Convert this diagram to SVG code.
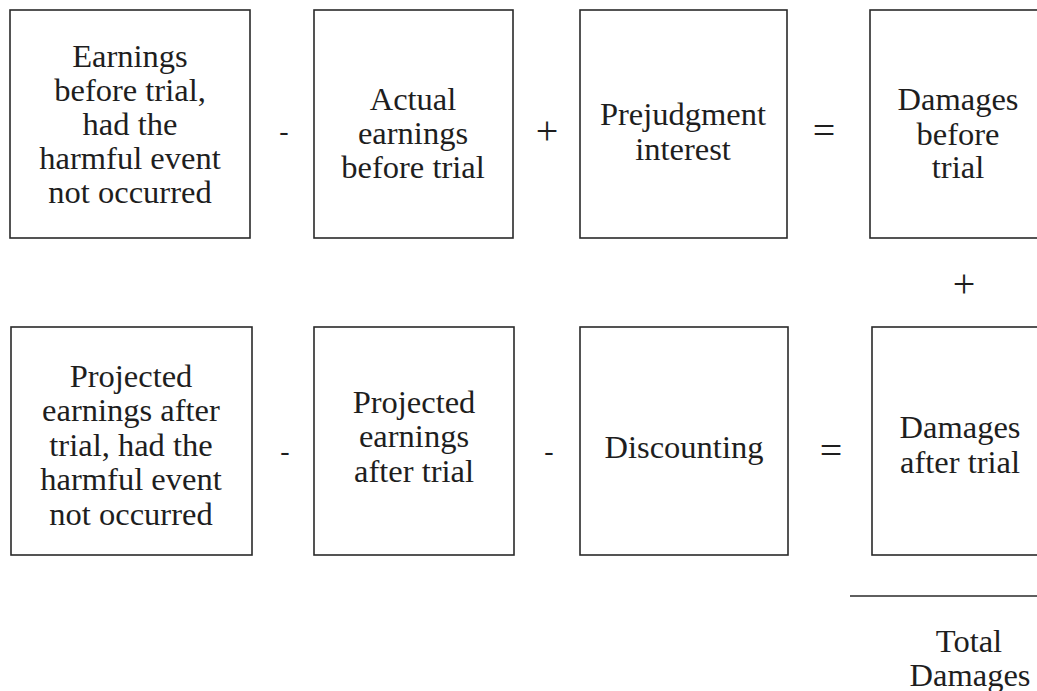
<svg xmlns="http://www.w3.org/2000/svg" width="1037" height="691" viewBox="0 0 1037 691">
<style>
.box{fill:#ffffff;stroke:#2a2a2a;stroke-width:1.6}
text{font-family:"Liberation Serif","Times New Roman",serif;font-size:32.5px;fill:#1e1e1e;text-anchor:middle}
.op{font-size:40px}
.mn{font-size:28px}
</style>
<rect width="1037" height="691" fill="#ffffff"/>
<g id="n1"><rect class="box" x="10" y="10" width="240" height="228"/>
<text x="130" y="67">Earnings</text><text x="130" y="101">before trial,</text><text x="130" y="135">had the</text><text x="130" y="169">harmful event</text><text x="130" y="203">not occurred</text></g>
<g id="n2"><rect class="box" x="314" y="10" width="199" height="228"/>
<text x="413" y="110">Actual</text><text x="413" y="144">earnings</text><text x="413" y="178">before trial</text></g>
<g id="n3"><rect class="box" x="580" y="10" width="207" height="228"/>
<text x="683" y="125">Prejudgment</text><text x="683" y="160">interest</text></g>
<g id="n4"><rect class="box" x="870" y="10" width="200" height="228"/>
<text x="958" y="110">Damages</text><text x="958" y="145">before</text><text x="958" y="178">trial</text></g>
<g id="n5"><rect class="box" x="11" y="327" width="241" height="228"/>
<text x="131" y="387">Projected</text><text x="131" y="421">earnings after</text><text x="131" y="456">trial, had the</text><text x="131" y="490">harmful event</text><text x="131" y="525">not occurred</text></g>
<g id="n6"><rect class="box" x="314" y="327" width="200" height="228"/>
<text x="414" y="413">Projected</text><text x="414" y="447">earnings</text><text x="414" y="482">after trial</text></g>
<g id="n7"><rect class="box" x="580" y="327" width="208" height="228"/>
<text x="684" y="458">Discounting</text></g>
<g id="n8"><rect class="box" x="872" y="327" width="200" height="228"/>
<text x="960" y="438">Damages</text><text x="960" y="473">after trial</text></g>
<g id="connectors">
<text class="mn" x="284" y="140">-</text>
<text class="op" x="547" y="144">+</text>
<text class="op" x="824" y="144">=</text>
<text class="mn" x="285" y="460">-</text>
<text class="mn" x="549" y="460">-</text>
<text class="op" x="831" y="464">=</text>
<text class="op" x="964" y="297">+</text>
<line x1="850" y1="596" x2="1037" y2="596" stroke="#2a2a2a" stroke-width="1.6"/>
</g>
<g id="total"><text x="969" y="652">Total</text><text x="970" y="686">Damages</text></g>
</svg>
